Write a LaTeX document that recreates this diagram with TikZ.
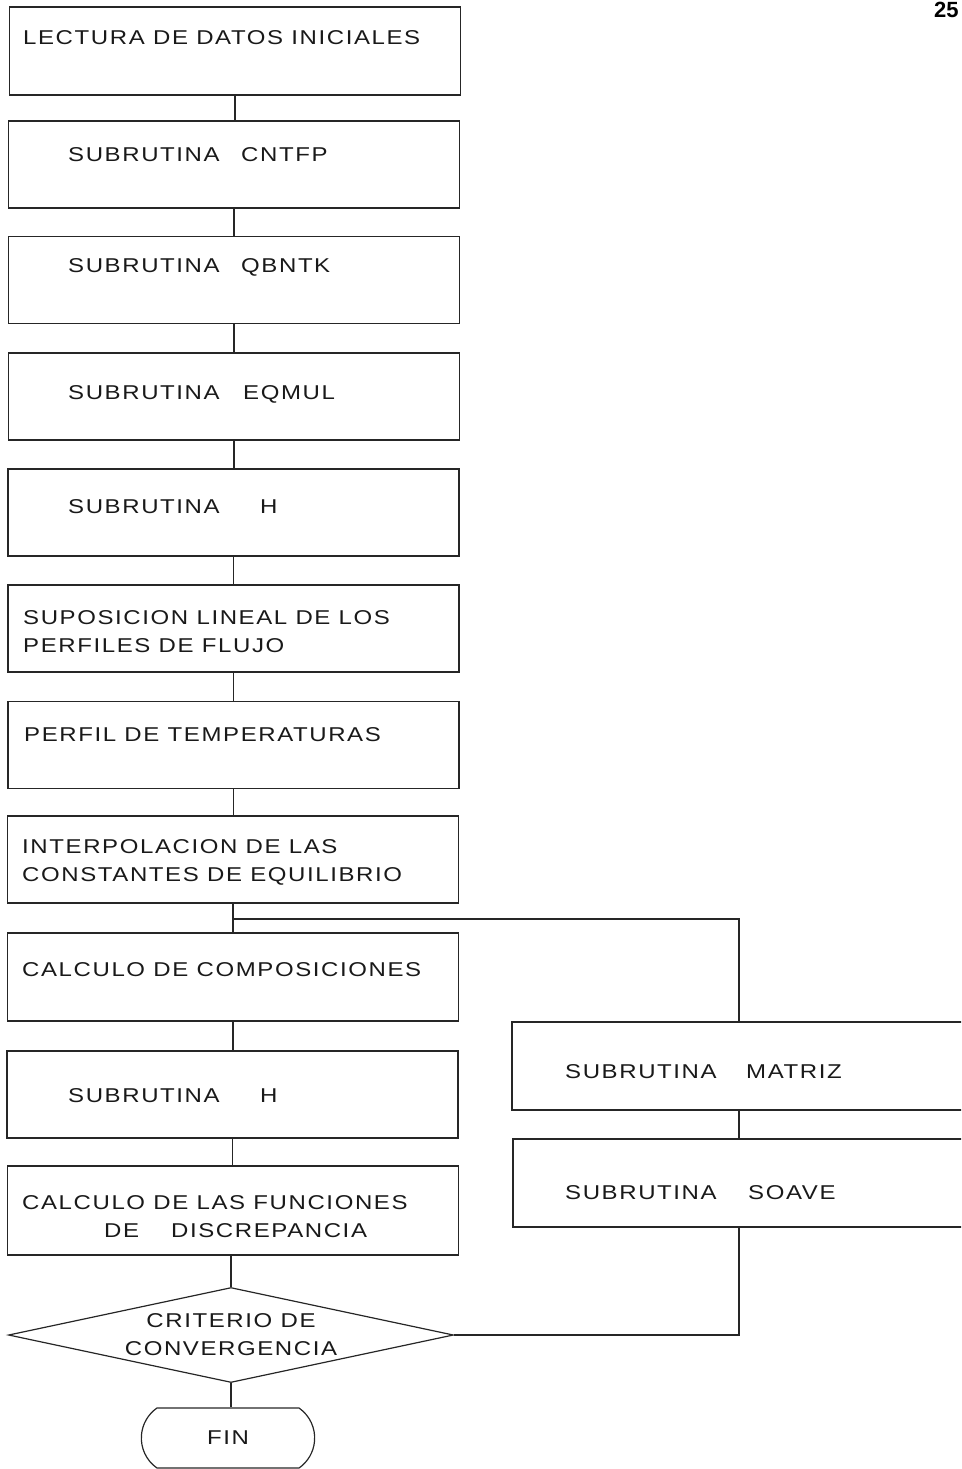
\documentclass[tikz,border=0pt]{standalone}
\usepackage{fontspec}
\setmainfont{Liberation Sans}[LetterSpace=8,FakeStretch=1.2]
\newfontfamily\numfont{Liberation Sans}[BoldFont={Liberation Sans Bold}]
\usetikzlibrary{shapes.geometric,shapes.misc}
\begin{document}
\begin{tikzpicture}[x=1pt,y=-1pt,
  box/.style={draw=black!85,line width=1.2pt,minimum width=451pt,minimum height=87pt,inner sep=0pt},
  rbox/.style={draw=black!85,line width=1.2pt,minimum width=463pt,minimum height=88pt,inner sep=0pt},
  txt/.style={anchor=west,inner sep=0pt,font=\fontsize{20}{28}\selectfont,text=black!90,align=left},
  conn/.style={draw=black!85,line width=1.2pt}]
\clip (0,0) rectangle (961,1469);
% left column boxes
\node[box,minimum height=88pt] (b1) at (235,51) {};
\node[box] (b2) at (234,164.5) {};
\node[box] (b3) at (234,280) {};
\node[box] (b4) at (234,396.5) {};
\node[box] (b5) at (233.5,512.5) {};
\node[box] (b6) at (233.5,628.5) {};
\node[box] (b7) at (233.5,745) {};
\node[box] (b8) at (233,859.5) {};
\node[box,minimum height=88pt] (b9) at (233,977) {};
\node[box] (b10) at (232.5,1094.5) {};
\node[box,minimum height=89pt] (b11) at (233,1210.5) {};
% texts
\node[txt] (t1) at (23,38) {LECTURA DE DATOS INICIALES};
\node[txt] (t2) at (68,155) {\makebox[173pt][l]{SUBRUTINA}CNTFP};
\node[txt] (t3) at (68,267) {\makebox[173pt][l]{SUBRUTINA}QBNTK};
\node[txt] (t4) at (68,394) {\makebox[175pt][l]{SUBRUTINA}EQMUL};
\node[txt] (t5) at (68,507) {\makebox[192pt][l]{SUBRUTINA}H};
\node[txt] (t6) at (23,632) {SUPOSICION LINEAL DE LOS\\PERFILES DE FLUJO};
\node[txt] (t7) at (24,735) {PERFIL DE TEMPERATURAS};
\node[txt] (t8) at (22,862) {INTERPOLACION DE LAS\\CONSTANTES DE EQUILIBRIO};
\node[txt] (t9) at (22,970) {CALCULO DE COMPOSICIONES};
\node[txt] (t10) at (68,1096) {\makebox[192pt][l]{SUBRUTINA}H};
\node[txt] (t11) at (22,1217) {CALCULO DE LAS FUNCIONES\\\hspace*{82pt}\makebox[67pt][l]{DE}DISCREPANCIA};
% right boxes
\node[rbox] (m) at (743.5,1066) {};
\node[rbox] (s) at (744.5,1183) {};
\node[txt] (tm) at (565,1072) {\makebox[181pt][l]{SUBRUTINA}MATRIZ};
\node[txt] (ts) at (565,1193) {\makebox[183pt][l]{SUBRUTINA}SOAVE};
% decision
\node[diamond,draw=black!85,line width=1.2pt,inner sep=0pt,aspect=4.7,minimum width=445pt,minimum height=95pt,
  font=\fontsize{20}{28}\selectfont,align=center,text=black!90] (d) at (231,1335) {CRITERIO DE\\CONVERGENCIA};
% terminal
\node[rounded rectangle,rounded rectangle arc length=110,draw=black!85,line width=1.2pt,minimum width=180pt,minimum height=60pt,
  font=\fontsize{20}{28}\selectfont,text=black!90] (fin) at (228,1438) {FIN};
% page number
\node[anchor=west,inner sep=0pt,font=\fontsize{22}{22}\selectfont\numfont\bfseries] (pg) at (934,10) {25};
% connectors
\coordinate (br) at (739,919);
\draw[conn] (b1.south) -- (b1.south |- b2.north);
\draw[conn] (b2.south) -- (b2.south |- b3.north);
\draw[conn] (b3.south) -- (b3.south |- b4.north);
\draw[conn] (b4.south) -- (b4.south |- b5.north);
\draw[conn] (b5.south) -- (b5.south |- b6.north);
\draw[conn] (b6.south) -- (b6.south |- b7.north);
\draw[conn] (b7.south) -- (b7.south |- b8.north);
\draw[conn] (b8.south) -- (b8.south |- b9.north);
\draw[conn] (b8.south |- br) -- (br) -- (br |- m.north);
\draw[conn] (b9.south) -- (b9.south |- b10.north);
\draw[conn] (b10.south) -- (b10.south |- b11.north);
\draw[conn] (b11.south -| d.north) -- (d.north);
\draw[conn] (d.south) -- (d.south |- fin.north);
\draw[conn] (br |- m.south) -- (br |- s.north);
\draw[conn] (br |- s.south) -- (br |- d.east) -- (d.east);
\end{tikzpicture}
\end{document}
